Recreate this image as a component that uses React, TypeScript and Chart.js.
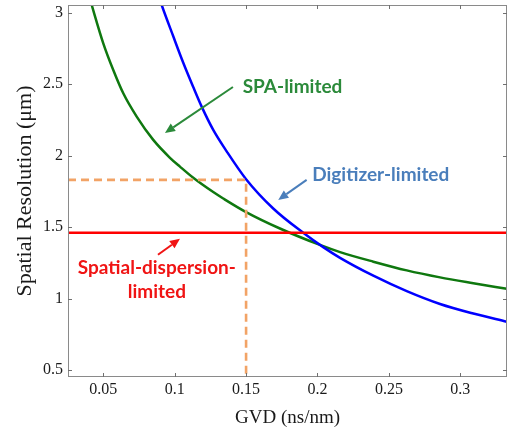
import React, { useEffect, useRef } from "react";
import { Chart, registerables } from "chart.js";

Chart.register(...registerables);

// Axis ranges and ticks
const X_MIN = 0.0253;
const X_MAX = 0.3327;
const Y_MIN = 0.451;
const Y_MAX = 3.054;
const xTicks = [0.05, 0.1, 0.15, 0.2, 0.25, 0.3];
const xTickLabels = ["0.05", "0.1", "0.15", "0.2", "0.25", "0.3"];
const yTicks = [0.5, 1, 1.5, 2, 2.5, 3];
const yTickLabels = ["0.5", "1", "1.5", "2", "2.5", "3"];

// SPA-limited curve (green)
const spaGVD = [0.04, 0.0419, 0.05, 0.057, 0.064, 0.0734, 0.085, 0.0967, 0.1037, 0.113, 0.127, 0.134, 0.15, 0.1737, 0.2017, 0.2158, 0.2391, 0.2625, 0.2858, 0.3091, 0.3325];
const spaRes = [3.12, 3.054, 2.786, 2.599, 2.436, 2.273, 2.11, 1.985, 1.923, 1.845, 1.745, 1.7, 1.605, 1.49, 1.375, 1.325, 1.258, 1.197, 1.148, 1.107, 1.068];

// Digitizer-limited curve (blue)
const digGVD = [0.088, 0.0909, 0.099, 0.106, 0.113, 0.1189, 0.127, 0.1364, 0.15, 0.169, 0.19, 0.204, 0.2158, 0.2391, 0.2625, 0.2858, 0.3091, 0.3325];
const digRes = [3.14, 3.054, 2.835, 2.65, 2.48, 2.343, 2.18, 2.03, 1.835, 1.63, 1.46, 1.36, 1.285, 1.16, 1.052, 0.962, 0.895, 0.838];

// Spatial-dispersion limit (red) and operating point (orange dashed)
const dispersionRes = 1.46;
const operatingGVD = 0.15;
const operatingRes = 1.83;

const SERIF = "'Liberation Serif', 'Times New Roman', serif";
const SANS = "Lato, 'Open Sans', sans-serif";

type Note = { lines: string[]; x: number; y: number; color: string };
const notes: Note[] = [
  { lines: ["SPA-limited"], x: 0.1825, y: 2.48, color: "#2b8a3a" },
  { lines: ["Digitizer-limited"], x: 0.2443, y: 1.865, color: "#4a7ebb" },
  { lines: ["Spatial-dispersion-", "limited"], x: 0.0875, y: 1.213, color: "#f01414" },
];
type Arrow = { x1: number; y1: number; x2: number; y2: number; color: string };
const arrows: Arrow[] = [
  { x1: 0.1408, y1: 2.48, x2: 0.0932, y2: 2.159, color: "#2b8a3a" },
  { x1: 0.1924, y1: 1.83, x2: 0.1725, y2: 1.69, color: "#4a7ebb" },
  { x1: 0.0883, y1: 1.306, x2: 0.1037, y2: 1.418, color: "#f01414" },
];

const framePlugin = {
  id: "frame",
  afterDatasetsDraw(chart: any) {
    const { ctx, chartArea: a, scales } = chart;
    const xs = scales.x;
    const ys = scales.y;
    ctx.save();
    // arrows
    for (const ar of arrows) {
      const px1 = xs.getPixelForValue(ar.x1);
      const py1 = ys.getPixelForValue(ar.y1);
      const px2 = xs.getPixelForValue(ar.x2);
      const py2 = ys.getPixelForValue(ar.y2);
      const ang = Math.atan2(py2 - py1, px2 - px1);
      const headLen = 10;
      const headW = 4.5;
      const bx = px2 - headLen * Math.cos(ang);
      const by = py2 - headLen * Math.sin(ang);
      ctx.strokeStyle = ar.color;
      ctx.fillStyle = ar.color;
      ctx.lineWidth = 2;
      ctx.beginPath();
      ctx.moveTo(px1, py1);
      ctx.lineTo(bx, by);
      ctx.stroke();
      ctx.beginPath();
      ctx.moveTo(px2, py2);
      ctx.lineTo(bx + headW * Math.sin(ang), by - headW * Math.cos(ang));
      ctx.lineTo(bx - headW * Math.sin(ang), by + headW * Math.cos(ang));
      ctx.closePath();
      ctx.fill();
    }
    // notes
    ctx.font = "bold 19px " + SANS;
    ctx.textAlign = "center";
    ctx.textBaseline = "middle";
    for (const n of notes) {
      const px = xs.getPixelForValue(n.x);
      const py = ys.getPixelForValue(n.y);
      ctx.fillStyle = n.color;
      n.lines.forEach((t, i) => ctx.fillText(t, px, py + i * 23.4));
    }
    // frame box
    ctx.strokeStyle = "#8a8a8a";
    ctx.lineWidth = 1;
    ctx.strokeRect(a.left + 0.5, a.top + 0.5, a.right - a.left - 1, a.bottom - a.top - 1);
    // inside ticks
    ctx.strokeStyle = "#707070";
    const tl = 4;
    ctx.beginPath();
    for (const v of xTicks) {
      const px = Math.round(xs.getPixelForValue(v)) + 0.5;
      ctx.moveTo(px, a.bottom);
      ctx.lineTo(px, a.bottom - tl);
      ctx.moveTo(px, a.top);
      ctx.lineTo(px, a.top + tl);
    }
    for (const v of yTicks) {
      const py = Math.round(ys.getPixelForValue(v)) + 0.5;
      ctx.moveTo(a.left, py);
      ctx.lineTo(a.left + tl, py);
      ctx.moveTo(a.right, py);
      ctx.lineTo(a.right - tl, py);
    }
    ctx.stroke();
    ctx.restore();
  },
};

export default function App() {
  const ref = useRef<HTMLCanvasElement | null>(null);
  useEffect(() => {
    document.body.style.margin = "0";
    const canvas = ref.current;
    if (!canvas) return;
    const toPts = (xs: number[], ys: number[]) => xs.map((x, i) => ({ x, y: ys[i] }));
    const chart = new Chart(canvas, {
      type: "scatter",
      data: {
        datasets: [
          {
            label: "Operating point",
            data: [
              { x: X_MIN, y: operatingRes },
              { x: operatingGVD, y: operatingRes },
              { x: operatingGVD, y: Y_MIN },
            ],
            showLine: true,
            borderColor: "#f2a366",
            borderWidth: 2.6,
            borderDash: [8, 5],
            pointRadius: 0,
            order: 0,
            clip: 0,
          } as any,
          {
            label: "Spatial-dispersion-limited",
            data: [
              { x: X_MIN, y: dispersionRes },
              { x: X_MAX, y: dispersionRes },
            ],
            showLine: true,
            borderColor: "#ff0000",
            borderWidth: 2.6,
            pointRadius: 0,
            order: 1,
            clip: 0,
          },
          {
            label: "Digitizer-limited",
            data: toPts(digGVD, digRes),
            showLine: true,
            borderColor: "#0000ff",
            borderWidth: 2.5,
            pointRadius: 0,
            cubicInterpolationMode: "monotone",
            order: 2,
            clip: 0,
          },
          {
            label: "SPA-limited",
            data: toPts(spaGVD, spaRes),
            showLine: true,
            borderColor: "#0f780f",
            borderWidth: 2.5,
            pointRadius: 0,
            cubicInterpolationMode: "monotone",
            order: 3,
            clip: 0,
          },
        ],
      },
      options: {
        animation: false,
        responsive: false,
        events: [],
        layout: { padding: { top: 5, right: 1, left: 0, bottom: 0 } },
        plugins: { legend: { display: false }, tooltip: { enabled: false } },
        scales: {
          x: {
            type: "linear",
            min: X_MIN,
            max: X_MAX,
            grid: { display: false, drawTicks: false },
            border: { display: false },
            afterBuildTicks: (s: any) => {
              s.ticks = xTicks.map((v) => ({ value: v }));
            },
            afterFit: (s: any) => {
              s.height = 55;
              s.paddingLeft = 0;
              s.paddingRight = 0;
            },
            ticks: {
              padding: 3,
              color: "#1a1a1a",
              font: { family: SERIF, size: 16 },
              maxRotation: 0,
              autoSkip: false,
              callback: (v: any) => xTickLabels[xTicks.indexOf(Number(v))] ?? "",
            },
            title: {
              display: true,
              text: "GVD (ns/nm)",
              color: "#1a1a1a",
              font: { family: SERIF, size: 19, lineHeight: 1 },
              padding: { top: 0, bottom: 4.5 },
            },
          },
          y: {
            type: "linear",
            min: Y_MIN,
            max: Y_MAX,
            grid: { display: false, drawTicks: false },
            border: { display: false },
            afterBuildTicks: (s: any) => {
              s.ticks = yTicks.map((v) => ({ value: v }));
            },
            afterFit: (s: any) => {
              s.width = 68;
              s.paddingTop = 0;
              s.paddingBottom = 0;
            },
            ticks: {
              padding: 5,
              color: "#1a1a1a",
              font: { family: SERIF, size: 16 },
              autoSkip: false,
              callback: (v: any) => yTickLabels[yTicks.indexOf(Number(v))] ?? "",
            },
            title: {
              display: true,
              text: "Spatial Resolution (\u03bcm)",
              color: "#1a1a1a",
              font: { family: SERIF, size: 22, lineHeight: 1 },
              padding: { top: 14, bottom: 0 },
            },
          },
        },
      },
      plugins: [framePlugin],
    });
    return () => chart.destroy();
  }, []);
  return (
    <div style={{ position: "absolute", left: 0, top: 0, width: 508, height: 432, background: "#fff" }}>
      <canvas ref={ref} width={508} height={432} style={{ display: "block" }} />
    </div>
  );
}
